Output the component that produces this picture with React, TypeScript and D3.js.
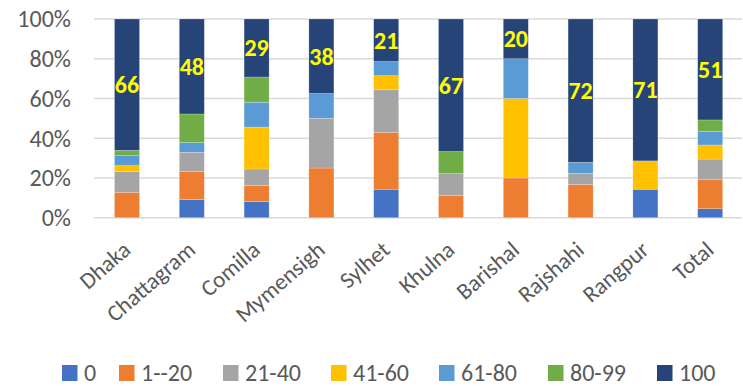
import React from "react";
import * as d3 from "d3";

const categories = ["Dhaka", "Chattagram", "Comilla", "Mymensigh", "Sylhet", "Khulna", "Barishal", "Rajshahi", "Rangpur", "Total"];
const seriesNames = ["0", "1--20", "21-40", "41-60", "61-80", "80-99", "100"];
const s0 = [0, 9.1, 8.1, 0, 14.3, 0, 0, 0, 14.3, 4.5];
const s1 = [12.8, 14.2, 8.2, 25, 28.6, 11.1, 20, 16.7, 0, 14.6];
const s2 = [10.4, 9.6, 8.2, 25, 21.4, 11.1, 0, 5.6, 0, 10.4];
const s3 = [3, 0, 21.1, 0, 7.1, 0, 40, 0, 14.3, 7.1];
const s4 = [5, 4.9, 12.5, 12.5, 7.1, 0, 20, 5.6, 0, 6.9];
const s5 = [2.7, 14.4, 12.7, 0, 0, 11.1, 0, 0, 0, 5.7];
const s6 = [66.1, 47.8, 29.2, 37.5, 21.4, 66.7, 20, 72.1, 71.4, 50.8];
const yTicks = [0, 0.2, 0.4, 0.6, 0.8, 1];
const colors = ["#4472C4", "#ED7D31", "#A5A5A5", "#FFC000", "#5B9BD5", "#70AD47", "#264478"];

const FONT = "Carlito, Calibri, Lato, 'Open Sans', sans-serif";

export default function App() {
  const W = 743, H = 387;
  const allSeries = [s0, s1, s2, s3, s4, s5, s6];
  const rows = categories.map((c, i) => {
    const r: any = { cat: c };
    seriesNames.forEach((n, k) => (r[n] = allSeries[k][i]));
    return r;
  });
  const stack = d3.stack<any>().keys(seriesNames).offset(d3.stackOffsetExpand);
  const stacked = stack(rows);

  const x = d3.scaleBand<string>().domain(categories).range([94.6, 742.6]).paddingInner(0.614).paddingOuter(0.307);
  const y = d3.scaleLinear().domain([0, 1]).range([217.7, 19]);
  const fmt = d3.format(".0%");

  const legendX = [62, 119, 223, 331, 439, 548, 657];

  return (
    <svg width={W} height={H} style={{ position: "absolute", left: 0, top: 0, background: "#fff" }} fontFamily={FONT}>
      {yTicks.map((t) => (
        <g key={t}>
          <line x1={94} x2={742} y1={y(t)} y2={y(t)} stroke="#d9d9d9" strokeWidth={1.5} />
          <text x={71} y={y(t)} dy="0.35em" textAnchor="end" fontSize={24} fill="#595959">{fmt(t)}</text>
        </g>
      ))}
      {stacked.map((layer, k) => (
        <g key={layer.key} fill={colors[k]}>
          {layer.map((d, i) => {
            const h = y(d[0]) - y(d[1]);
            if (h <= 0) return null;
            return <rect key={i} x={x(categories[i])} y={y(d[1])} width={x.bandwidth()} height={h} stroke="#ffffff" strokeOpacity={0.35} strokeWidth={0.6} />;
          })}
        </g>
      ))}
      {stacked[6].map((d, i) => (
        <text key={i} x={(x(categories[i]) as number) + x.bandwidth() / 2} y={(y(d[0]) + y(d[1])) / 2} dy="0.35em" textAnchor="middle" fontSize={24} fontWeight="bold" fill="#FFFF00">
          {Math.round(s6[i])}
        </text>
      ))}
      {categories.map((c) => {
        const cx = (x(c) as number) + x.bandwidth() / 2 + 5;
        return (
          <text key={c} transform={`translate(${cx},252) rotate(-41)`} textAnchor="end" fontSize={23} fill="#595959">{c}</text>
        );
      })}
      {seriesNames.map((n, k) => (
        <g key={n}>
          <rect x={legendX[k]} y={365} width={15.5} height={16} fill={colors[k]} />
          <text x={legendX[k] + 22} y={380.5} fontSize={24} fill="#595959">{n}</text>
        </g>
      ))}
    </svg>
  );
}
